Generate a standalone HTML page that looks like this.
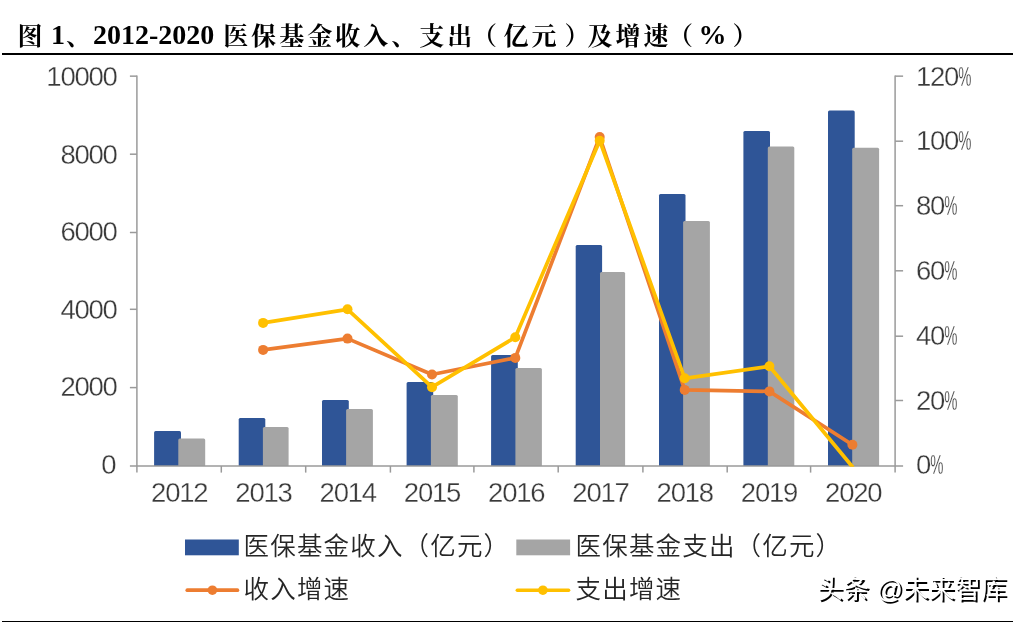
<!DOCTYPE html>
<html lang="zh-CN">
<head>
<meta charset="utf-8">
<title>图 1、2012-2020 医保基金收入、支出（亿元）及增速（%）</title>
<style>
html,body{margin:0;padding:0;background:#fff;}
body{width:1025px;height:622px;position:relative;overflow:hidden;}
.fig{position:absolute;left:0;top:0;width:1025px;height:622px;margin:0;}
.title{position:absolute;left:19px;top:17px;margin:0;white-space:nowrap;
  font-family:"Liberation Serif","Noto Serif CJK SC",serif;font-weight:bold;font-size:28px;line-height:36px;color:#000;}
.title .c{font-size:25px;letter-spacing:3px;position:relative;top:1px;left:1px;font-weight:700;}
.title .pl{position:relative;left:-3.5px;}
.title .pr{position:relative;left:5px;}
.title .s1{margin-right:-3px;}
.title .s2{margin-right:1px;}
.rule{position:absolute;left:2px;width:1011px;height:2px;background:#000;}
.rule.top{top:53px;}
.rule.bottom{top:620.5px;}
.chart{position:absolute;left:0;top:0;}
.chart text{font-family:"Liberation Sans","Noto Sans CJK SC",sans-serif;}
.wm{position:absolute;left:817px;top:570px;margin:0;white-space:nowrap;
  font-family:"Liberation Sans","Noto Sans CJK SC",sans-serif;font-size:26px;line-height:38px;color:#fff;
  text-shadow:2px 2px 0 #000;}
</style>
</head>
<body>
<figure class="fig">
<h1 class="title"><span class="c" style="left:-1.5px">图</span><span class="s1"> </span>1<span class="c">、</span>2012-2020<span class="s2"> </span><span class="c">医保基金收入、支出<span class="pl">（</span>亿元<span class="pr">）</span>及增速<span class="pl">（</span></span>%<span class="c"><span class="pr">）</span></span></h1>
<div class="rule top"></div>
<svg class="chart" width="1025" height="622" viewBox="0 0 1025 622">

<g class="bars">
<path d="M154.1 466.0 V432.4 Q154.1 430.9 155.6 430.9 H179.5 Q181.0 430.9 181.0 432.4 V466.0 Z" fill="#2f5597"/>
<path d="M178.3 466.0 V440.0 Q178.3 438.5 179.8 438.5 H203.7 Q205.2 438.5 205.2 440.0 V466.0 Z" fill="#a5a5a5"/>
<path d="M238.7 466.0 V419.6 Q238.7 418.1 240.2 418.1 H263.8 Q265.3 418.1 265.3 419.6 V466.0 Z" fill="#2f5597"/>
<path d="M262.9 466.0 V428.6 Q262.9 427.1 264.4 427.1 H287.1 Q288.6 427.1 288.6 428.6 V466.0 Z" fill="#a5a5a5"/>
<path d="M322.0 466.0 V401.6 Q322.0 400.1 323.5 400.1 H347.3 Q348.8 400.1 348.8 401.6 V466.0 Z" fill="#2f5597"/>
<path d="M346.1 466.0 V410.6 Q346.1 409.1 347.6 409.1 H371.4 Q372.9 409.1 372.9 410.6 V466.0 Z" fill="#a5a5a5"/>
<path d="M406.6 466.0 V383.6 Q406.6 382.1 408.1 382.1 H431.7 Q433.2 382.1 433.2 383.6 V466.0 Z" fill="#2f5597"/>
<path d="M430.9 466.0 V396.5 Q430.9 395.0 432.4 395.0 H456.3 Q457.8 395.0 457.8 396.5 V466.0 Z" fill="#a5a5a5"/>
<path d="M491.1 466.0 V356.6 Q491.1 355.1 492.6 355.1 H516.3 Q517.8 355.1 517.8 356.6 V466.0 Z" fill="#2f5597"/>
<path d="M515.4 466.0 V369.5 Q515.4 368.0 516.9 368.0 H540.4 Q541.9 368.0 541.9 369.5 V466.0 Z" fill="#a5a5a5"/>
<path d="M575.7 466.0 V246.6 Q575.7 245.1 577.2 245.1 H600.6 Q602.1 245.1 602.1 246.6 V466.0 Z" fill="#2f5597"/>
<path d="M600.0 466.0 V273.6 Q600.0 272.1 601.5 272.1 H623.6 Q625.1 272.1 625.1 273.6 V466.0 Z" fill="#a5a5a5"/>
<path d="M659.0 466.0 V195.6 Q659.0 194.1 660.5 194.1 H684.0 Q685.5 194.1 685.5 195.6 V466.0 Z" fill="#2f5597"/>
<path d="M683.1 466.0 V222.5 Q683.1 221.0 684.6 221.0 H708.4 Q709.9 221.0 709.9 222.5 V466.0 Z" fill="#a5a5a5"/>
<path d="M743.4 466.0 V132.6 Q743.4 131.1 744.9 131.1 H768.5 Q770.0 131.1 770.0 132.6 V466.0 Z" fill="#2f5597"/>
<path d="M767.8 466.0 V148.0 Q767.8 146.5 769.3 146.5 H792.8 Q794.3 146.5 794.3 148.0 V466.0 Z" fill="#a5a5a5"/>
<path d="M828.0 466.0 V112.0 Q828.0 110.5 829.5 110.5 H853.2 Q854.7 110.5 854.7 112.0 V466.0 Z" fill="#2f5597"/>
<path d="M852.2 466.0 V149.3 Q852.2 147.8 853.7 147.8 H877.6 Q879.1 147.8 879.1 149.3 V466.0 Z" fill="#a5a5a5"/>
</g>
<g class="axes" stroke="#9a9a9a" stroke-width="1.5" fill="none">
<path d="M136.9 75.4 V466.0"/>
<path d="M895.1 75.4 V466.0"/>
<path d="M129.9 466.0 H903.1"/>
<path d="M129.9 76.15 H136.9"/>
<path d="M129.9 154.2 H136.9"/>
<path d="M129.9 232.5 H136.9"/>
<path d="M129.9 309.3 H136.9"/>
<path d="M129.9 387.6 H136.9"/>
<path d="M895.1 76.15 H903.1"/>
<path d="M895.1 141.2 H903.1"/>
<path d="M895.1 205.7 H903.1"/>
<path d="M895.1 270.8 H903.1"/>
<path d="M895.1 336.2 H903.1"/>
<path d="M895.1 400.5 H903.1"/>
<path d="M136.9 466.0 V472.6"/>
<path d="M221.3 466.0 V472.6"/>
<path d="M305.7 466.0 V472.6"/>
<path d="M390.4 466.0 V472.6"/>
<path d="M473.9 466.0 V472.6"/>
<path d="M558.2 466.0 V472.6"/>
<path d="M642.9 466.0 V472.6"/>
<path d="M727.2 466.0 V472.6"/>
<path d="M810.6 466.0 V472.6"/>
<path d="M895.1 466.0 V472.6"/>
</g>
<defs><clipPath id="plot"><rect x="136.9" y="66.15" width="758.2" height="400.55"/></clipPath></defs>
<g class="series"><path d="M263.1 349.9 L347.5 338.6 L432.0 374.5 L515.3 357.9 L599.7 137.0 L684.7 389.9 L769.4 391.4 L852.4 444.7" fill="none" stroke="#ed7d31" stroke-width="3.7" stroke-linejoin="round" stroke-linecap="round"/><circle cx="263.1" cy="349.9" r="5" fill="#ed7d31"/><circle cx="347.5" cy="338.6" r="5" fill="#ed7d31"/><circle cx="432.0" cy="374.5" r="5" fill="#ed7d31"/><circle cx="515.3" cy="357.9" r="5" fill="#ed7d31"/><circle cx="599.7" cy="137.0" r="5" fill="#ed7d31"/><circle cx="684.7" cy="389.9" r="5" fill="#ed7d31"/><circle cx="769.4" cy="391.4" r="5" fill="#ed7d31"/><circle cx="852.4" cy="444.7" r="5" fill="#ed7d31"/></g>
<g class="series" clip-path="url(#plot)"><path d="M263.1 322.9 L347.5 309.3 L432.0 387.2 L515.3 337.3 L599.7 140.7 L684.7 378.3 L769.4 366.3 L852.4 466.8" fill="none" stroke="#ffc000" stroke-width="3.7" stroke-linejoin="round" stroke-linecap="round"/><circle cx="263.1" cy="322.9" r="5" fill="#ffc000"/><circle cx="347.5" cy="309.3" r="5" fill="#ffc000"/><circle cx="432.0" cy="387.2" r="5" fill="#ffc000"/><circle cx="515.3" cy="337.3" r="5" fill="#ffc000"/><circle cx="599.7" cy="140.7" r="5" fill="#ffc000"/><circle cx="684.7" cy="378.3" r="5" fill="#ffc000"/><circle cx="769.4" cy="366.3" r="5" fill="#ffc000"/></g>
<g class="ylabels" fill="#3a3a3a" font-size="27.5" letter-spacing="-1.244" stroke="#fff" stroke-width="0.3">
<text x="46.34" y="86.0">10000</text>
<text x="60.39" y="164.2">8000</text>
<text x="60.39" y="241.0">6000</text>
<text x="60.39" y="319.2">4000</text>
<text x="60.39" y="396.0">2000</text>
<text x="101.20" y="474.2">0</text>
</g>
<g class="y2labels" fill="#3a3a3a" font-size="27.5" letter-spacing="-1.244" stroke="#fff" stroke-width="0.3">
<text x="916" y="86.0">120<tspan class="pct" dx="0.1" letter-spacing="0" textLength="13.2" lengthAdjust="spacingAndGlyphs">%</tspan></text>
<text x="916" y="149.8">100<tspan class="pct" dx="0.1" letter-spacing="0" textLength="13.2" lengthAdjust="spacingAndGlyphs">%</tspan></text>
<text x="916" y="215.2">80<tspan class="pct" dx="0.1" letter-spacing="0" textLength="13.2" lengthAdjust="spacingAndGlyphs">%</tspan></text>
<text x="916" y="279.6">60<tspan class="pct" dx="0.1" letter-spacing="0" textLength="13.2" lengthAdjust="spacingAndGlyphs">%</tspan></text>
<text x="916" y="344.6">40<tspan class="pct" dx="0.1" letter-spacing="0" textLength="13.2" lengthAdjust="spacingAndGlyphs">%</tspan></text>
<text x="916" y="409.8">20<tspan class="pct" dx="0.1" letter-spacing="0" textLength="13.2" lengthAdjust="spacingAndGlyphs">%</tspan></text>
<text x="916" y="474.2">0<tspan class="pct" dx="0.1" letter-spacing="0" textLength="13.2" lengthAdjust="spacingAndGlyphs">%</tspan></text>
</g>
<g class="xlabels" fill="#3a3a3a" font-size="27.5" letter-spacing="-1.244" stroke="#fff" stroke-width="0.3">
<text x="151.12" y="502.3">2012</text>
<text x="235.37" y="502.3">2013</text>
<text x="319.61" y="502.3">2014</text>
<text x="403.86" y="502.3">2015</text>
<text x="488.10" y="502.3">2016</text>
<text x="572.34" y="502.3">2017</text>
<text x="656.59" y="502.3">2018</text>
<text x="740.83" y="502.3">2019</text>
<text x="825.08" y="502.3">2020</text>
</g>
<g class="legend" fill="#262626" font-size="25.5" letter-spacing="1.17" font-weight="350">
<rect x="185" y="539.5" width="53.8" height="15.8" fill="#2f5597"/>
<text x="243.6" y="554.6">医保基金收入（亿元）</text>
<rect x="516.3" y="539.5" width="53.8" height="15.8" fill="#a5a5a5"/>
<text x="575.6" y="554.6">医保基金支出（亿元）</text>
<path d="M187.3 590.2 H237.4" stroke="#ed7d31" stroke-width="3.7" stroke-linecap="round"/><circle cx="212.4" cy="590.2" r="4.8" fill="#ed7d31"/>
<text x="243.6" y="597.6">收入增速</text>
<path d="M517.3 590.2 H568.6" stroke="#ffc000" stroke-width="3.5" stroke-linecap="round"/><circle cx="542.9" cy="590.2" r="4.8" fill="#ffc000"/>
<text x="575.6" y="597.6">支出增速</text>
</g>
</svg>
<div class="rule bottom"></div>
<p class="wm">头条 @未来智库</p>
</figure>
</body>
</html>
